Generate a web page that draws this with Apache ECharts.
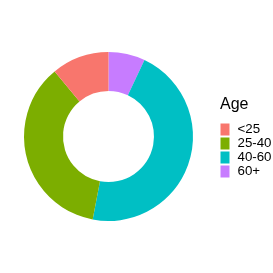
<!DOCTYPE html>
<html><head><meta charset="utf-8">
<script src="https://cdn.jsdelivr.net/npm/echarts@6/dist/echarts.min.js"></script>
<style>html,body{margin:0;padding:0;background:#fff}#c{width:273px;height:273px}</style>
</head><body><div id="c"></div>
<script>
// Data in clockwise order from 12 o'clock
const categories = ['60+', '40-60', '25-40', '<25'];
const values = [7, 46, 36, 11];
const legendOrder = ['<25', '25-40', '40-60', '60+'];
const colorMap = {'<25': '#F8766D', '25-40': '#7CAE00', '40-60': '#00BFC4', '60+': '#C77CFF'};
const legendTitle = 'Age';

const chart = echarts.init(document.getElementById('c'));
chart.setOption({
  animation: false,
  backgroundColor: '#fff',
  title: {
    text: legendTitle, left: 220, top: 97, padding: 0,
    textStyle: {fontFamily: 'Liberation Sans', fontSize: 16, fontWeight: 'normal', color: '#000'}
  },
  legend: {
    orient: 'vertical', left: 220.5, top: 123, padding: 0,
    itemWidth: 9, itemHeight: 12, itemGap: 1, icon: 'rect',
    data: legendOrder,
    selectedMode: false,
    textStyle: {fontFamily: 'Liberation Sans', fontSize: 13.3, color: '#000', padding: [0, 0, 0, 3]}
  },
  series: [{
    type: 'pie',
    center: [108.5, 136.5],
    radius: [45.5, 84.5],
    startAngle: 90,
    clockwise: true,
    label: {show: false},
    labelLine: {show: false},
    emphasis: {disabled: true},
    itemStyle: {borderWidth: 0},
    data: categories.map((c, i) => ({name: c, value: values[i], itemStyle: {color: colorMap[c]}}))
  }]
});
</script></body></html>
